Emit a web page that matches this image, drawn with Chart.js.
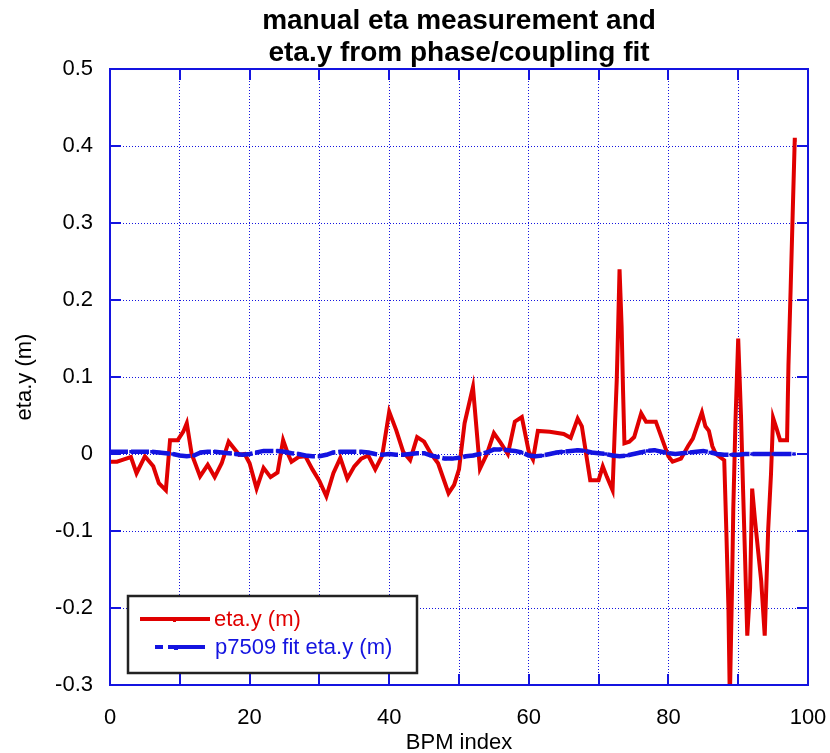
<!DOCTYPE html>
<html>
<head>
<meta charset="utf-8">
<script src="https://cdn.jsdelivr.net/npm/chart.js@4.4.1/dist/chart.umd.min.js"></script>
<style>
  html, body { margin: 0; padding: 0; background: #fff; }
</style>
</head>
<body>
<canvas id="chart" width="830" height="753"></canvas>
<script>
// measured eta.y (m) vs BPM index
var measX = [0, 1, 2, 3, 3.8, 5, 6.2, 7, 8, 8.6, 9.7, 10.5, 11, 11.7, 12.9, 14, 15, 16, 17, 18.5,
  19.3, 20, 21, 22, 23, 24, 24.8, 25.5, 26, 27, 28, 29, 30, 31, 32, 33, 34, 35, 36, 37,
  38, 39, 40, 41, 42, 43, 44, 45, 46, 47, 48.5, 49.3, 50, 50.8, 52, 53, 54, 55, 56, 57,
  58, 59, 60, 60.6, 61.3, 63, 65, 66, 67, 67.6, 68.3, 68.8, 70, 70.6, 71.2, 72, 72.3, 72.6, 72.8, 73,
  73.3, 73.5, 73.7, 74.4, 75.1, 76.1, 76.8, 78.2, 79, 80, 80.6, 81.8, 82.8, 83.5, 84.8, 85.3, 85.8, 86.3, 86.8, 88,
  88.3, 88.6, 88.8, 89.1, 89.3, 89.6, 90, 90.4, 90.7, 91, 91.3, 91.7, 92, 92.4, 92.9, 93.3, 93.8, 94.3, 94.7, 95,
  95.5, 96, 97, 97.2, 97.5, 97.8, 98.1, 98.4];
var measY = [-0.01, -0.01, -0.007, -0.004, -0.025, -0.003, -0.016, -0.038, -0.047, 0.018, 0.018, 0.029, 0.04, 0.0, -0.029, -0.014, -0.03, -0.012, 0.016, -0.001,
  0.0, -0.012, -0.045, -0.018, -0.03, -0.024, 0.018, 0.0, -0.01, -0.004, -0.003, -0.02, -0.035, -0.055, -0.025, -0.005, -0.032, -0.016, -0.006, -0.002,
  -0.02, -0.002, 0.055, 0.031, 0.003, -0.008, 0.022, 0.016, 0.0, -0.012, -0.051, -0.04, -0.02, 0.04, 0.087, -0.019, 0.0, 0.027, 0.014, 0.0,
  0.042, 0.048, 0.003, -0.007, 0.03, 0.029, 0.026, 0.021, 0.046, 0.036, -0.005, -0.034, -0.034, -0.016, -0.03, -0.047, 0.027, 0.096, 0.165, 0.24,
  0.165, 0.083, 0.014, 0.016, 0.022, 0.053, 0.042, 0.042, 0.022, -0.003, -0.01, -0.006, 0.01, 0.02, 0.054, 0.036, 0.03, 0.01, 0.0, -0.008,
  -0.1, -0.2, -0.32, -0.18, -0.07, 0.04, 0.15, 0.05, -0.047, -0.14, -0.236, -0.175, -0.045, -0.085, -0.13, -0.165, -0.236, -0.097, -0.026, 0.047,
  0.033, 0.018, 0.018, 0.115, 0.21, 0.31, 0.408, 0.408];

// p7509 fit eta.y (m), one value per BPM index 0..98
var fitY = [0.003, 0.003, 0.003, 0.003, 0.003, 0.003, 0.003, 0.002, 0.001, 0.0,
  -0.002, -0.003, -0.002, 0.002, 0.003, 0.003, 0.002, 0.001, 0.0, -0.001,
  0.0, 0.002, 0.004, 0.004, 0.004, 0.003, 0.001, 0.0, -0.002, -0.003,
  -0.003, -0.001, 0.002, 0.003, 0.003, 0.003, 0.003, 0.002, 0.0, -0.001,
  0.0, -0.001, -0.001, 0.0, 0.001, 0.001, -0.002, -0.004, -0.006, -0.006,
  -0.005, -0.003, -0.002, 0.0, 0.002, 0.006, 0.006, 0.005, 0.004, 0.002,
  -0.002, -0.003, -0.002, 0.0, 0.002, 0.003, 0.004, 0.005, 0.004, 0.002,
  0.001, 0.0, -0.002, -0.003, -0.002, 0.0, 0.002, 0.004, 0.005, 0.003,
  0.001, 0.0, 0.001, 0.002, 0.003, 0.004, 0.002, 0.0, -0.001, -0.001,
  -0.001, 0.0, 0.0, 0.0, 0.0, 0.0, 0.0, 0.0, 0.0];
var fitX = fitY.map(function (v, i) { return i; });

var titleLines = ['manual eta measurement and', 'eta.y from phase/coupling fit'];
var seriesNames = ['eta.y (m)', 'p7509 fit eta.y (m)'];

var RED = '#e00000';
var BLUE = '#1414e0';
var FONT = "'Liberation Sans', Arial, sans-serif";

// ticks inside on all four sides, plus top/right frame
var frameTicks = {
  id: 'frameTicks',
  afterDatasetsDraw: function (chart) {
    var ctx = chart.ctx, a = chart.chartArea;
    var xs = chart.scales.x, ys = chart.scales.y;
    ctx.save();
    ctx.strokeStyle = BLUE;
    ctx.lineWidth = 2;
    ctx.beginPath();
    xs.ticks.forEach(function (t) {
      var px = Math.round(xs.getPixelForValue(t.value));
      ctx.moveTo(px, a.bottom); ctx.lineTo(px, a.bottom - 11);
      ctx.moveTo(px, a.top); ctx.lineTo(px, a.top + 11);
    });
    ys.ticks.forEach(function (t) {
      var py = Math.round(ys.getPixelForValue(t.value));
      ctx.moveTo(a.left, py); ctx.lineTo(a.left + 11, py);
      ctx.moveTo(a.right, py); ctx.lineTo(a.right - 11, py);
    });
    ctx.stroke();
    ctx.strokeRect(a.left, a.top, a.right - a.left, a.bottom - a.top);
    ctx.restore();
  },
  afterDraw: function (chart) {
    // legend box in the lower left corner
    var ctx = chart.ctx, a = chart.chartArea;
    var bx = a.left + 18, by = a.bottom - 89, bw = 289, bh = 77;
    ctx.save();
    ctx.fillStyle = '#fff';
    ctx.fillRect(bx, by, bw, bh);
    ctx.strokeStyle = '#222';
    ctx.lineWidth = 2.5;
    ctx.strokeRect(bx, by, bw, bh);

    ctx.font = '22px ' + FONT;
    ctx.textBaseline = 'middle';

    var y1 = by + 23;
    ctx.strokeStyle = RED; ctx.lineWidth = 4;
    ctx.beginPath(); ctx.moveTo(bx + 12, y1); ctx.lineTo(bx + 82, y1); ctx.stroke();
    ctx.fillStyle = RED; ctx.fillRect(bx + 45, y1, 3, 3);
    ctx.fillText(seriesNames[0], bx + 86, y1 + 1);

    var y2 = by + 51;
    ctx.strokeStyle = BLUE; ctx.lineWidth = 4;
    ctx.beginPath();
    ctx.moveTo(bx + 27, y2); ctx.lineTo(bx + 35, y2);
    ctx.moveTo(bx + 40, y2); ctx.lineTo(bx + 77, y2);
    ctx.stroke();
    ctx.fillStyle = BLUE; ctx.fillRect(bx + 46, y2, 4, 3);
    ctx.fillText(seriesNames[1], bx + 87, y2 + 1);
    ctx.restore();
  }
};

new Chart(document.getElementById('chart'), {
  type: 'line',
  data: {
    datasets: [
      {
        label: seriesNames[0],
        data: measX.map(function (x, i) { return { x: x, y: measY[i] }; }),
        borderColor: RED,
        backgroundColor: RED,
        borderWidth: 4,
        pointRadius: 0,
        tension: 0,
        order: 2
      },
      {
        label: seriesNames[1],
        data: fitX.map(function (x, i) { return { x: x, y: fitY[i] }; }),
        borderColor: BLUE,
        backgroundColor: BLUE,
        borderWidth: 4.5,
        borderDash: [18, 3],
        pointStyle: 'rect',
        pointRadius: 2.4,
        pointBorderWidth: 0,
        tension: 0,
        order: 1
      }
    ]
  },
  options: {
    responsive: false,
    devicePixelRatio: 1,
    animation: false,
    layout: { padding: { top: 0, right: 22, bottom: 0, left: 0 } },
    plugins: {
      legend: { display: false },
      tooltip: { enabled: false },
      title: {
        display: true,
        fullSize: false,
        text: titleLines,
        color: '#000',
        font: { family: FONT, size: 28, weight: 'bold', lineHeight: 1.143 },
        padding: { top: 5, bottom: 0 }
      }
    },
    scales: {
      x: {
        type: 'linear',
        min: 0,
        max: 100,
        afterFit: function (s) { s.height = 68; s.paddingLeft = 0; s.paddingRight = 0; },
        ticks: {
          stepSize: 10,
          padding: 20,
          color: '#000',
          font: { family: FONT, size: 22 },
          callback: function (v) { return v % 20 === 0 ? String(v) : ''; }
        },
        grid: { color: BLUE, lineWidth: 1, drawTicks: false },
        border: { display: true, color: BLUE, width: 2, dash: [1, 2] },
        title: {
          display: true,
          text: 'BPM index',
          color: '#000',
          font: { family: FONT, size: 22 },
          padding: { top: 0, bottom: -3 }
        }
      },
      y: {
        type: 'linear',
        min: -0.3,
        max: 0.5,
        afterFit: function (s) { s.width = 110; },
        ticks: {
          stepSize: 0.1,
          padding: 17,
          color: '#000',
          font: { family: FONT, size: 22 },
          callback: function (v) { return String(Math.round(v * 10) / 10); }
        },
        grid: { color: BLUE, lineWidth: 1, drawTicks: false },
        border: { display: true, color: BLUE, width: 2, dash: [1, 2] },
        title: {
          display: true,
          text: 'eta.y (m)',
          color: '#000',
          font: { family: FONT, size: 22 },
          padding: { top: 12, bottom: 0 }
        }
      }
    }
  },
  plugins: [frameTicks]
});
</script>
</body>
</html>
